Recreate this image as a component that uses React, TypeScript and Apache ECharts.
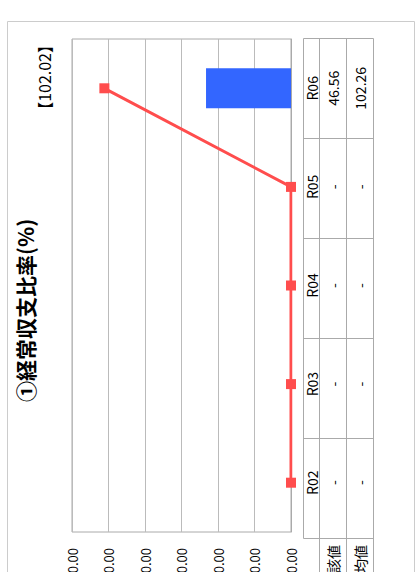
import React, { useEffect, useRef } from "react";
import * as echarts from "echarts";

const categories = ["R02", "R03", "R04", "R05", "R06"];
const currentValues: (number | null)[] = [null, null, null, null, 46.56];
const averageValues: (number | null)[] = [null, null, null, null, 102.26];
const rowLabels = ["当該値", "類似団体平均値"];
const titleText = "①経常収支比率(%)";
const headlineText = "【102.02】";
const yMin = 0;
const yMax = 120;
const yInterval = 20;

const FONT = "'Liberation Sans Narrow', 'Noto Sans CJK JP', sans-serif";
const CJK = "'Noto Sans CJK JP', sans-serif";
const W = 612;
const H = 416;
const OFFSET = 40;

export default function App() {
  const ref = useRef<HTMLDivElement>(null);
  useEffect(() => {
    if (!ref.current) return;
    const chart = echarts.init(ref.current, null, { renderer: "svg", width: W, height: H });
    const lineData = averageValues.map((v) => (v == null ? 0 : v));
    chart.setOption({
      animation: false,
      backgroundColor: "#ffffff",
      grid: { left: 80, right: 39, top: 72, bottom: 125, show: true, borderColor: "#aaaaaa", borderWidth: 1 },
      xAxis: {
        type: "category",
        data: categories,
        boundaryGap: true,
        axisLabel: { show: false },
        axisTick: { show: false },
        axisLine: { lineStyle: { color: "#aaaaaa", width: 1 } },
      },
      yAxis: {
        type: "value",
        min: yMin,
        max: yMax,
        interval: yInterval,
        axisLabel: {
          formatter: (v: number) => v.toFixed(2),
          fontSize: 13,
          fontFamily: FONT,
          color: "#000",
          margin: 16,
        },
        axisLine: { show: false },
        axisTick: { show: false },
        splitLine: { lineStyle: { color: "#bbbbbb", width: 1 } },
      },
      series: [
        {
          name: rowLabels[0],
          type: "bar",
          data: currentValues,
          barWidth: 40,
          itemStyle: { color: "#3366ff" },
          z: 2,
        },
        {
          name: rowLabels[1],
          type: "line",
          data: lineData,
          symbol: "rect",
          symbolSize: 10,
          lineStyle: { color: "#ff4d4d", width: 3 },
          itemStyle: { color: "#ff4d4d" },
          z: 3,
        },
      ],
    });

    const centers = categories.map((c) => chart.convertToPixel({ xAxisIndex: 0 }, c) as number);
    const stroke = "#aaaaaa";
    const line = (x1: number, y1: number, x2: number, y2: number, color = stroke) => ({
      type: "line",
      silent: true,
      shape: { x1, y1, x2, y2 },
      style: { stroke: color, lineWidth: 1 },
    });
    const text = (t: string, x: number, y: number, size: number, align: string, weight = "normal", family = FONT) => ({
      type: "text",
      silent: true,
      x,
      y,
      style: {
        text: t,
        fontSize: size,
        fontFamily: family,
        fontWeight: weight,
        fill: "#000",
        align,
        verticalAlign: "middle",
      },
    });

    const tTop = 303.5, r1 = 319.5, r2 = 346.5, r3 = 373.5;
    const colLeft = 73.5;
    const colW = 100;
    const elements: any[] = [];
    // frame
    elements.push({
      type: "rect",
      silent: true,
      shape: { x: -10, y: 7.5, width: 600.5, height: 407 },
      style: { fill: "none", stroke: "#cccccc", lineWidth: 1 },
    });
    elements.push(text(titleText, 210, 25, 21, "left", "bold", CJK));
    elements.push(text(headlineText, 575, 44, 16, "right", "normal", CJK));
    // table lines
    elements.push(line(colLeft, tTop, colLeft + colW * categories.length, tTop));
    [r1, r2, r3].forEach((y) => elements.push(line(0, y, colLeft + colW * categories.length, y)));
    for (let i = 0; i <= categories.length; i++) {
      const x = colLeft + colW * i;
      elements.push(line(x, tTop, x, r3));
    }
    // row labels
    elements.push(text(rowLabels[0], 67, (r1 + r2) / 2, 14, "right", "normal", CJK));
    elements.push(text(rowLabels[1], 67, (r2 + r3) / 2, 14, "right", "normal", CJK));
    categories.forEach((c, i) => {
      const cx = centers[i];
      elements.push(text(c, cx, (tTop + r1) / 2 + 0.5, 14, "center"));
      const a = currentValues[i];
      const b = averageValues[i];
      elements.push(text(a == null ? "-" : a.toFixed(2), cx, (r1 + r2) / 2, 14, "center"));
      elements.push(text(b == null ? "-" : b.toFixed(2), cx, (r2 + r3) / 2, 14, "center"));
    });
    chart.setOption({ graphic: { elements } });
    return () => chart.dispose();
  }, []);

  return (
    <div
      style={{
        position: "fixed",
        left: 0,
        top: 0,
        width: 416,
        height: 572,
        overflow: "hidden",
        background: "#ffffff",
      }}
    >
      <div
        ref={ref}
        style={{
          position: "absolute",
          left: 0,
          top: 0,
          width: W,
          height: H,
          transformOrigin: "0 0",
          transform: `translate(0px, ${572 + OFFSET}px) rotate(-90deg)`,
        }}
      />
    </div>
  );
}
